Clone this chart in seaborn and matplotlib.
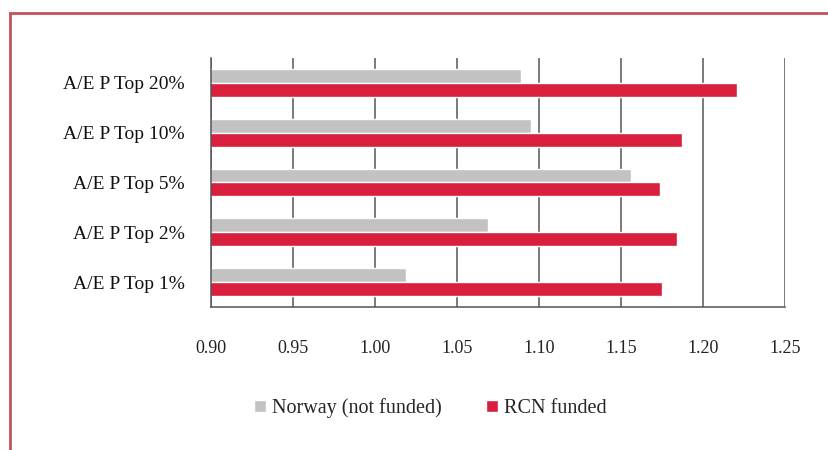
import pandas as pd
import numpy as np
import matplotlib.pyplot as plt
import seaborn as sns
from matplotlib.patches import Rectangle

categorias = ['A/E P Top 20%', 'A/E P Top 10%', 'A/E P Top 5%', 'A/E P Top 2%', 'A/E P Top 1%']
norway = [1.089, 1.095, 1.156, 1.069, 1.019]
rcn = [1.221, 1.187, 1.174, 1.184, 1.175]
series = ['Norway (not funded)', 'RCN funded']
xticks = [0.90, 0.95, 1.00, 1.05, 1.10, 1.15, 1.20, 1.25]

df = pd.DataFrame({
    'Categoria': categorias * 2,
    'Valor': norway + rcn,
    'Serie': [series[0]] * len(categorias) + [series[1]] * len(categorias),
})

sns.set_style('white')
plt.rcParams['font.family'] = ['Liberation Serif', 'DejaVu Serif']

fig = plt.figure(figsize=(8.29, 4.5), dpi=100)
ax = fig.add_axes([0.2545, 0.318, 0.6925, 0.553])

sns.barplot(data=df, y='Categoria', x='Valor', hue='Serie', order=categorias,
            hue_order=series, palette=['#c2c2c2', '#d81f3e'], width=0.56,
            saturation=1, orient='h', ax=ax, legend=True)

ax.set_xlim(0.90, 1.25)
ax.set_ylim(4.5, -0.5)
ax.set_xticks(xticks)
ax.set_xticklabels([f'{v:.2f}' for v in xticks], fontsize=13, color='#222222')
ax.tick_params(axis='x', direction='out', length=4, color='#555555', pad=20)
ax.tick_params(axis='y', length=0, pad=19, labelsize=14, labelcolor='#111111')
ax.set_yticks(np.arange(-0.5, 5, 1), minor=True)
ax.tick_params(axis='y', which='minor', direction='out', length=4, color='#555555')
ax.set_xlabel('')
ax.set_ylabel('')

# linhas de grade verticais
ax.grid(axis='x', color='#555555', linewidth=1.1)
ax.set_axisbelow(True)
for s in ['top', 'right']:
    ax.spines[s].set_visible(False)
for s in ['left', 'bottom']:
    ax.spines[s].set_color('#555555')
    ax.spines[s].set_linewidth(1.1)

handles, labels = ax.get_legend_handles_labels()
ax.get_legend().remove()
fig.legend(handles, labels, loc='center', bbox_to_anchor=(0.519, 0.093), ncol=2,
           frameon=False, fontsize=14.5, handlelength=0.6, handleheight=0.6,
           handletextpad=0.3, columnspacing=2.2)

# moldura vermelha
fig.patches.append(Rectangle((10 / 829, -0.1), 1.2, 1 - 13 / 450 + 0.1,
                             transform=fig.transFigure, fill=False,
                             edgecolor='#c4505a', linewidth=2))

fig.savefig('out.png', dpi=100)
